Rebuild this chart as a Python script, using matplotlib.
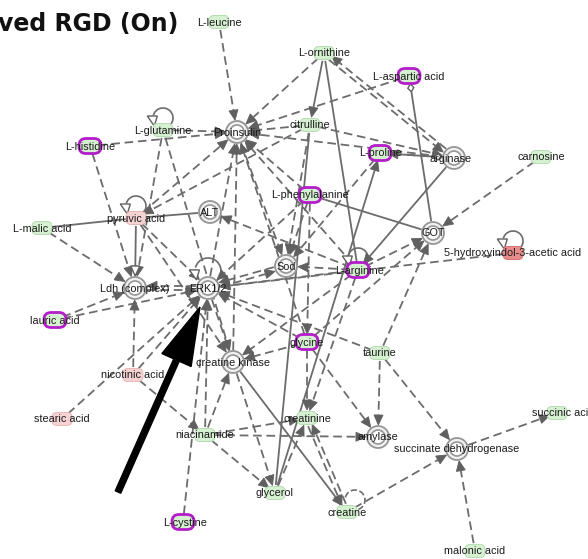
import numpy as np
import matplotlib.pyplot as plt
from matplotlib.patches import Circle, FancyBboxPatch, Polygon, FancyArrow, Arc

# node table: name, x, y (pixel layout of the pathway picture), kind
names = ['L-leucine', 'L-ornithine', 'L-aspartic acid', 'L-glutamine', 'Proinsulin',
         'L-histidine', 'citrulline', 'L-proline', 'arginase', 'carnosine',
         'L-phenylalanine', 'pyruvic acid', 'ALT', 'L-malic acid', 'GOT',
         '5-hydroxyindol-3-acetic acid', 'Sod', 'L-arginine', 'Ldh (complex)', 'ERK1/2',
         'lauric acid', 'glycine', 'taurine', 'creatine kinase', 'nicotinic acid',
         'stearic acid', 'creatinine', 'succinic acid', 'niacinamide', 'amylase',
         'succinate dehydrogenase', 'glycerol', 'creatine', 'L-cystine', 'malonic acid']
node_x = [219, 324, 409, 163, 237, 90, 310, 380, 454, 541,
          310, 136, 210, 42, 433, 513, 286, 358, 135, 208,
          55, 307, 380, 233, 133, 62, 307, 557, 205, 378,
          457, 275, 347, 183, 475]
node_y = [22, 53, 76, 130, 132, 146, 125, 153, 158, 157,
          195, 218, 212, 228, 233, 253, 266, 270, 288, 288,
          320, 342, 353, 362, 375, 419, 418, 413, 435, 437,
          449, 493, 512, 522, 551]
# g = measured green, m = highlighted (magenta), p = pink, r = red, e = enzyme
kinds = ['g', 'g', 'm', 'g', 'e', 'm', 'g', 'm', 'e', 'g',
         'm', 'p', 'e', 'g', 'e', 'r', 'e', 'm', 'e', 'e',
         'm', 'm', 'g', 'e', 'p', 'p', 'g', 'g', 'g', 'e',
         'e', 'g', 'g', 'm', 'g']
label_dx = {'arginase': -3, 'L-cystine': 2, 'L-arginine': 2, 'succinic acid': 6}
self_loops = ['L-glutamine', 'pyruvic acid', 'ERK1/2', 'L-arginine',
              '5-hydroxyindol-3-acetic acid', 'creatine']

dashed_edges = [
    ('L-leucine', 'Proinsulin'), ('L-glutamine', 'Proinsulin'), ('L-histidine', 'Proinsulin'),
    ('L-ornithine', 'Proinsulin'), ('L-aspartic acid', 'Proinsulin'), ('citrulline', 'Proinsulin'),
    ('arginase', 'Proinsulin'), ('L-phenylalanine', 'Proinsulin'), ('L-arginine', 'Proinsulin'),
    ('glycine', 'Proinsulin'), ('ERK1/2', 'Proinsulin'), ('pyruvic acid', 'Proinsulin'),
    ('creatine kinase', 'Proinsulin'), ('Proinsulin', 'Sod'),
    ('L-histidine', 'Ldh (complex)'), ('L-glutamine', 'Ldh (complex)'),
    ('L-glutamine', 'creatine kinase'), ('L-malic acid', 'Ldh (complex)'),
    ('pyruvic acid', 'ERK1/2'), ('pyruvic acid', 'creatine kinase'), ('citrulline', 'pyruvic acid'),
    ('L-ornithine', 'arginase'), ('arginase', 'L-ornithine'), ('citrulline', 'arginase'),
    ('arginase', 'L-proline'), ('carnosine', 'GOT'), ('L-arginine', 'GOT'),
    ('glycine', 'GOT'), ('taurine', 'GOT'), ('5-hydroxyindol-3-acetic acid', 'ERK1/2'),
    ('L-arginine', 'Sod'), ('L-arginine', 'ALT'), ('L-arginine', 'ERK1/2'),
    ('Sod', 'ERK1/2'), ('ERK1/2', 'Sod'), ('citrulline', 'Sod'), ('L-proline', 'Sod'),
    ('L-phenylalanine', 'Sod'), ('L-phenylalanine', 'ERK1/2'), ('L-phenylalanine', 'glycine'),
    ('Ldh (complex)', 'ERK1/2'), ('ERK1/2', 'Ldh (complex)'),
    ('lauric acid', 'Ldh (complex)'), ('lauric acid', 'ERK1/2'),
    ('nicotinic acid', 'Ldh (complex)'), ('nicotinic acid', 'ERK1/2'),
    ('nicotinic acid', 'niacinamide'), ('stearic acid', 'ERK1/2'),
    ('niacinamide', 'ERK1/2'), ('niacinamide', 'creatine kinase'), ('niacinamide', 'creatinine'),
    ('niacinamide', 'amylase'), ('niacinamide', 'glycerol'), ('L-cystine', 'ERK1/2'),
    ('ERK1/2', 'creatine kinase'), ('taurine', 'ERK1/2'), ('glycine', 'creatine kinase'),
    ('glycine', 'creatinine'), ('glycine', 'amylase'), ('glycine', 'ERK1/2'),
    ('L-arginine', 'creatine kinase'), ('L-arginine', 'creatinine'),
    ('creatine kinase', 'glycerol'), ('creatine', 'creatinine'), ('creatinine', 'creatine'),
    ('creatine', 'succinate dehydrogenase'), ('taurine', 'amylase'),
    ('taurine', 'succinate dehydrogenase'), ('succinate dehydrogenase', 'succinic acid'),
    ('malonic acid', 'succinate dehydrogenase'), ('glycerol', 'creatinine'),
]
solid_edges = [
    ('L-malic acid', 'pyruvic acid', 'none'), ('pyruvic acid', 'ALT', 'none'),
    ('pyruvic acid', 'Ldh (complex)', 'open'), ('L-ornithine', 'citrulline', 'arrow'),
    ('L-ornithine', 'L-arginine', 'none'), ('citrulline', 'glycerol', 'none'),
    ('L-phenylalanine', 'GOT', 'none'), ('L-aspartic acid', 'GOT', 'diamond'),
    ('arginase', 'L-arginine', 'arrow'), ('arginase', 'L-proline', 'diamond'),
    ('glycerol', 'L-proline', 'arrow'), ('creatine kinase', 'creatine', 'arrow'),
]

pos = {n: (x, y) for n, x, y in zip(names, node_x, node_y)}
kind = dict(zip(names, kinds))
radius = {n: (12 if kind[n] == 'e' else 8) for n in names}
edge_set = set(dashed_edges)

LINE = '#6c6c6c'
HEAD = '#606060'

fig = plt.figure(figsize=(5.88, 5.59), dpi=100)
ax = fig.add_axes([0, 0, 1, 1])
ax.set_xlim(0, 588)
ax.set_ylim(559, 0)
ax.axis('off')


def draw_edge(a, b, dashed, head):
    x0, y0 = pos[a]
    x1, y1 = pos[b]
    d = np.hypot(x1 - x0, y1 - y0)
    ux, uy = (x1 - x0) / d, (y1 - y0) / d
    px, py = -uy, ux
    off = 2.2 if (b, a) in edge_set and dashed else 0
    sx, sy = x0 + ux * radius[a] + px * off, y0 + uy * radius[a] + py * off
    ex, ey = x1 - ux * radius[b] + px * off, y1 - uy * radius[b] + py * off
    hl, hw = 10, 4.5
    lx, ly = ex, ey
    if head in ('arrow', 'open'):
        lx, ly = ex - ux * hl, ey - uy * hl
    if head == 'diamond':
        sx, sy = sx + ux * 8, sy + uy * 8
    kw = dict(color=LINE, lw=1.3, zorder=1, solid_capstyle='butt')
    if dashed:
        ax.plot([sx, lx], [sy, ly], dashes=(4.8, 2.6), **kw)
    else:
        ax.plot([sx, lx], [sy, ly], **kw)
    if head in ('arrow', 'open'):
        tri = [(ex, ey), (lx + px * hw, ly + py * hw), (lx - px * hw, ly - py * hw)]
        if head == 'arrow':
            ax.add_patch(Polygon(tri, closed=True, fc=HEAD, ec=HEAD, lw=0.6, zorder=2))
        else:
            ax.add_patch(Polygon(tri, closed=True, fc='white', ec=HEAD, lw=1.0, zorder=2))
    if head == 'diamond':
        cx, cy = sx - ux * 4, sy - uy * 4
        dia = [(cx - ux * 4, cy - uy * 4), (cx + px * 3, cy + py * 3),
               (cx + ux * 4, cy + uy * 4), (cx - px * 3, cy - py * 3)]
        ax.add_patch(Polygon(dia, closed=True, fc='white', ec=HEAD, lw=1.0, zorder=2))


for a, b in dashed_edges:
    draw_edge(a, b, True, 'arrow')
for a, b, h in solid_edges:
    draw_edge(a, b, False, h)

# self loops (y axis is inverted, so theta 270 is the top of the circle on screen)
for n in self_loops:
    x, y = pos[n]
    r = 13 if kind[n] == 'e' else 10
    cy = y - (r + 4 if kind[n] == 'e' else r + 2)
    cx = x + (8 if n == 'creatine' else 0)
    ls = '--' if n == 'creatine' else '-'
    ax.add_patch(Arc((cx, cy), 2 * r, 2 * r, theta1=195, theta2=430, color=LINE,
                     lw=1.2, ls=ls, zorder=1))
    if n != 'creatine':
        tx, ty = cx - r * 0.97, cy + r * 0.3
        ax.add_patch(Polygon([(tx - 6, ty - 5), (tx + 4, ty - 5), (tx + 1, ty + 5)], closed=True,
                             fc='white', ec=HEAD, lw=1.0, zorder=2))

# nodes
for n in names:
    x, y = pos[n]
    k = kind[n]
    if k == 'e':
        ax.add_patch(Circle((x, y), 11, fc='#f1f1f1', ec='#969696', lw=1.3, zorder=3))
        ax.add_patch(Circle((x, y), 7, fc='white', ec='#969696', lw=1.2, zorder=3))
    elif k == 'm':
        ax.add_patch(FancyBboxPatch((x - 11, y - 7.5), 22, 15,
                                    boxstyle='round,pad=0,rounding_size=7',
                                    fc='#d6f0d2', ec='#b31ec9', lw=2.0, zorder=3))
    else:
        fc = {'g': '#d6f0d2', 'p': '#f6d3d3', 'r': '#e88b8b'}[k]
        ec = {'g': '#b7dcb2', 'p': '#e9b8b8', 'r': '#d87474'}[k]
        ax.add_patch(FancyBboxPatch((x - 10, y - 6.5), 20, 13,
                                    boxstyle='round,pad=0,rounding_size=5',
                                    fc=fc, ec=ec, lw=0.7, zorder=3))
    ax.text(x + label_dx.get(n, 0), y + 0.5, n, ha='center', va='center', fontsize=7.8,
            family=['Liberation Sans', 'DejaVu Sans'], color='#1a1a1a', zorder=4)

# highlight arrow pointing at ERK1/2
ex, ey = pos['ERK1/2']
ax.add_patch(FancyArrow(118, 492, ex - 8 - 118, ey + 19 - 492, width=6, head_width=32,
                        head_length=58, length_includes_head=True, color='black', zorder=5))

ax.text(-2, 31, 'ved RGD (On)', fontsize=17, fontweight='bold', family='DejaVu Sans',
        color='#111111', ha='left', va='baseline', zorder=6)

fig.savefig('out.png', dpi=100)
